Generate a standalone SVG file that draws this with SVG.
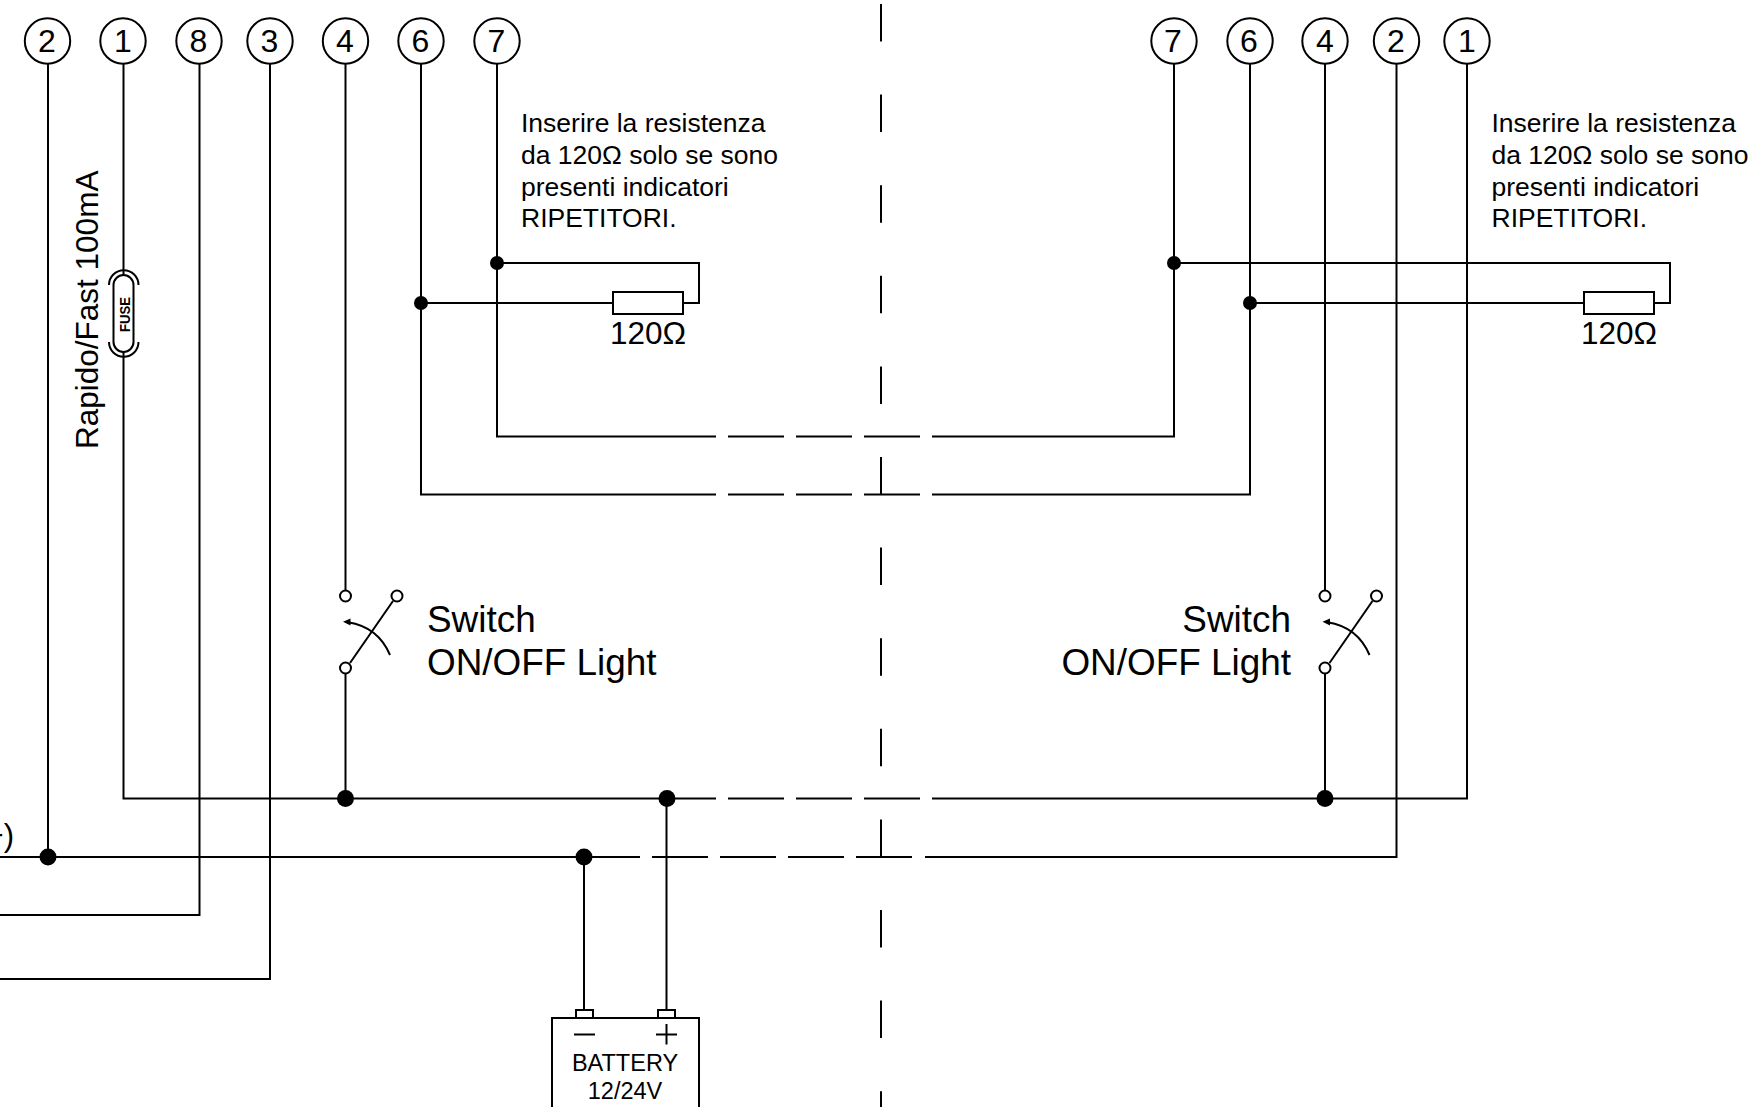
<svg xmlns="http://www.w3.org/2000/svg" width="1753" height="1107" viewBox="0 0 1753 1107">
<style>
.w{fill:none;stroke:#000;stroke-width:2;stroke-linejoin:miter}
.b{fill:#fff;stroke:#000;stroke-width:2}
.d{fill:#000;stroke:none}
text{font-family:"Liberation Sans",Arial,sans-serif;fill:#000}
.n{font-size:32px;text-anchor:middle}
.note{font-size:26.5px}
.sw{font-size:36.9px}
.r{font-size:31.5px;text-anchor:middle}
.bt{font-size:23.5px;text-anchor:middle}
</style>
<defs>
<g id="switch-symbol">
<path class="w" d="M345.5 64V590M345.5 674V798"/>
<path class="w" d="M393 601L350 663"/>
<path class="w" d="M390 655Q378 627 348 622.3"/>
<path class="d" d="M343 621.7L350.5 618.5V625.5Z"/>
<circle class="b" cx="345.5" cy="596" r="5.5"/>
<circle class="b" cx="397" cy="596" r="5.5"/>
<circle class="b" cx="345.5" cy="668" r="5.5"/>
</g>
</defs>
<rect width="1753" height="1107" fill="#fff"/>
<g id="connectors">
<path class="w" d="M881 4V1107" stroke-dasharray="37.5 53.1"/>
<path class="w" d="M48 64V857"/>
<path class="w" d="M123.5 64V798.5H716M728 798.5H784M796 798.5H852M864 798.5H920M932 798.5H1467V64"/>
<path class="w" d="M199.5 64V915H0"/>
<path class="w" d="M270 64V979H0"/>
<path class="w" d="M0 857H640M652 857H708M720 857H776M788 857H844M856 857H912M925 857H1396.5V64"/>
<path class="w" d="M421 64V494.5H716M728 494.5H784M796 494.5H852M864 494.5H920M932 494.5H1250V64"/>
<path class="w" d="M497 64V436.5H716M728 436.5H784M796 436.5H852M864 436.5H920M932 436.5H1174V64"/>
<path class="w" d="M497 263H699V303H683M613 303H421"/>
<path class="w" d="M1174 263H1670V303H1654M1584 303H1250"/>
<path class="w" d="M584 857V1010M666.5 798.5V1010"/>
<circle class="d" cx="48" cy="857" r="8.5"/>
<circle class="d" cx="345.5" cy="798.5" r="8.5"/>
<circle class="d" cx="667" cy="798.5" r="8.5"/>
<circle class="d" cx="584" cy="857" r="8.5"/>
<circle class="d" cx="1325" cy="798.5" r="8.5"/>
<circle class="d" cx="497" cy="263" r="7"/>
<circle class="d" cx="421" cy="303" r="7"/>
<circle class="d" cx="1174" cy="263" r="7"/>
<circle class="d" cx="1250" cy="303" r="7"/>
</g>
<g id="t-l2"><circle class="b" cx="47.5" cy="41" r="22.7"/><text class="n" x="47" y="52">2</text></g>
<g id="t-l1"><circle class="b" cx="123" cy="41" r="22.7"/><text class="n" x="123" y="52">1</text></g>
<g id="t-l8"><circle class="b" cx="199" cy="41" r="22.7"/><text class="n" x="198.5" y="52">8</text></g>
<g id="t-l3"><circle class="b" cx="270" cy="41" r="22.7"/><text class="n" x="269.5" y="52">3</text></g>
<g id="t-l4"><circle class="b" cx="345.5" cy="41" r="22.7"/><text class="n" x="345" y="52">4</text></g>
<g id="t-l6"><circle class="b" cx="421" cy="41" r="22.7"/><text class="n" x="420.5" y="52">6</text></g>
<g id="t-l7"><circle class="b" cx="497" cy="41" r="22.7"/><text class="n" x="496.5" y="52">7</text></g>
<g id="t-r7"><circle class="b" cx="1174" cy="41" r="22.7"/><text class="n" x="1173" y="52">7</text></g>
<g id="t-r6"><circle class="b" cx="1250" cy="41" r="22.7"/><text class="n" x="1249" y="52">6</text></g>
<g id="t-r4"><circle class="b" cx="1325" cy="41" r="22.7"/><text class="n" x="1325" y="52">4</text></g>
<g id="t-r2"><circle class="b" cx="1396.5" cy="41" r="22.7"/><text class="n" x="1396" y="52">2</text></g>
<g id="t-r1"><circle class="b" cx="1467" cy="41" r="22.7"/><text class="n" x="1467" y="52">1</text></g>
<g id="fuse">
<rect class="b" x="113.5" y="275" width="20" height="77" rx="10" ry="10"/>
<path class="w" d="M109 285A14.7 14.7 0 0 1 138.5 285M109 342A14.7 14.7 0 0 0 138.5 342"/>
<text transform="translate(129.5 332) rotate(-90)" font-size="15" font-weight="bold" textLength="35" lengthAdjust="spacingAndGlyphs">FUSE</text>
<text transform="translate(98 449) rotate(-90)" font-size="31.5">Rapido/Fast 100mA</text>
</g>
<g id="plus-label"><text x="14" y="846" font-size="31" text-anchor="end">+)</text></g>
<g id="switch-left">
<use href="#switch-symbol"/>
<text class="sw" x="427" y="632">Switch</text>
<text class="sw" x="427" y="675">ON/OFF Light</text>
</g>
<g id="switch-right">
<use href="#switch-symbol" x="979.5"/>
<text class="sw" x="1291" y="632" text-anchor="end">Switch</text>
<text class="sw" x="1291" y="675" text-anchor="end">ON/OFF Light</text>
</g>
<g id="resistor-left">
<rect class="b" x="613" y="292" width="70" height="22"/>
<text class="r" x="648" y="344">120Ω</text>
</g>
<g id="resistor-right">
<rect class="b" x="1584" y="292" width="70" height="22"/>
<text class="r" x="1619" y="344">120Ω</text>
</g>
<g id="note-left">
<text class="note" x="521" y="132">Inserire la resistenza</text>
<text class="note" x="521" y="164">da 120Ω solo se sono</text>
<text class="note" x="521" y="195.5">presenti indicatori</text>
<text class="note" x="521" y="227">RIPETITORI.</text>
</g>
<g id="note-right">
<text class="note" x="1491.5" y="132">Inserire la resistenza</text>
<text class="note" x="1491.5" y="164">da 120Ω solo se sono</text>
<text class="note" x="1491.5" y="195.5">presenti indicatori</text>
<text class="note" x="1491.5" y="227">RIPETITORI.</text>
</g>
<g id="battery">
<rect class="b" x="552" y="1018" width="147" height="110"/>
<rect class="b" x="576" y="1010" width="17" height="8"/>
<rect class="b" x="658" y="1010" width="17" height="8"/>
<path class="w" d="M574 1034.5H595M656 1034.5H677M666.5 1024V1044.5"/>
<text class="bt" x="625" y="1070.5">BATTERY</text>
<text class="bt" x="625" y="1098.5">12/24V</text>
</g>
</svg>
